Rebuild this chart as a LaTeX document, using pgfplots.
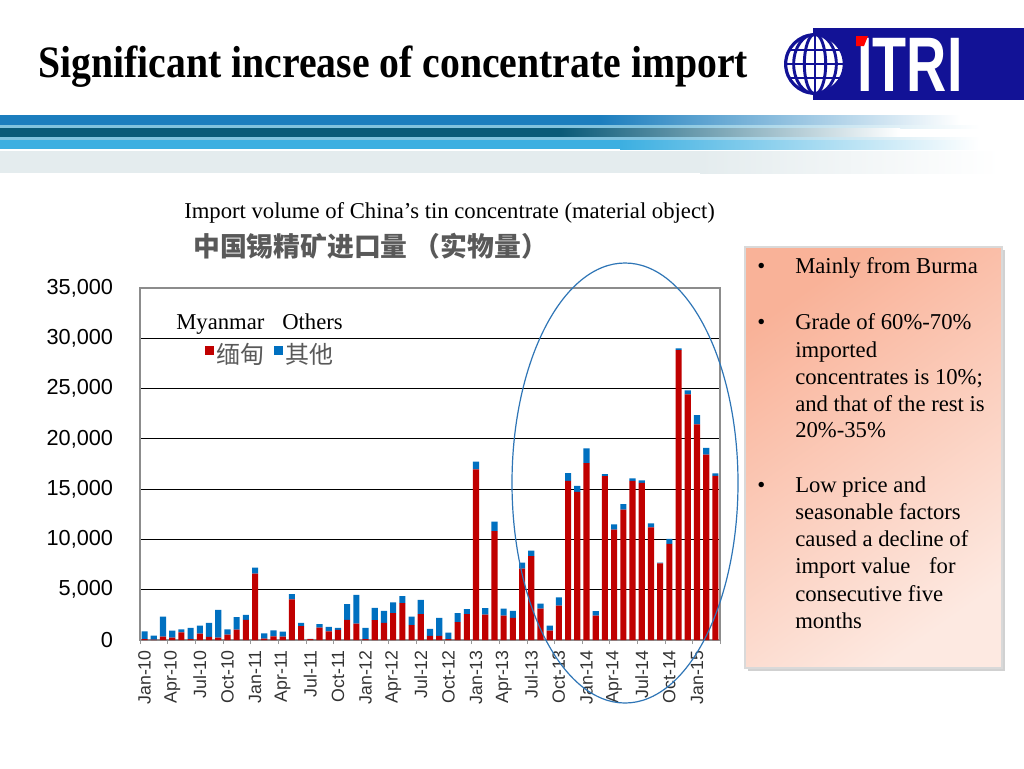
\documentclass[border=0pt]{standalone}
\usepackage{fontspec}
\setmainfont{Liberation Serif}
\setsansfont{Liberation Sans}
\newfontfamily\cjk{Noto Sans CJK SC}
\usepackage{pgfplots}
\pgfplotsset{compat=1.18}
\usepackage{pgfplotstable}

\definecolor{myred}{RGB}{192,0,0}
\definecolor{myblue}{RGB}{0,112,192}
\definecolor{cjkgray}{RGB}{89,89,89}
\definecolor{logoblue}{RGB}{18,18,150}
\definecolor{ellblue}{RGB}{46,117,182}
\definecolor{boxA}{RGB}{249,178,152}
\definecolor{boxB}{RGB}{253,233,225}
\definecolor{sA}{RGB}{28,126,190}
\definecolor{sB}{RGB}{130,195,222}
\definecolor{sC}{RGB}{10,90,120}
\definecolor{sD}{RGB}{60,175,225}
\definecolor{sE}{RGB}{228,236,238}

\pgfplotstableread{
x mm ot
0 100 770
1 50 380
2 330 2000
3 230 700
4 770 300
5 100 1100
6 630 800
7 300 1400
8 230 2770
9 530 540
10 1030 1240
11 2000 500
12 6600 600
13 130 540
14 370 600
15 330 500
16 4030 540
17 1370 330
18 100 20
19 1230 340
20 870 430
21 1000 200
22 2000 1570
23 1630 2870
24 100 1100
25 1970 1230
26 1700 1200
27 2670 1060
28 3670 700
29 1470 860
30 2570 1430
31 400 700
32 400 1800
33 100 630
34 1770 900
35 2570 500
36 16970 760
37 2530 640
38 10830 940
39 2430 700
40 2200 700
41 7100 600
42 8330 570
43 3130 500
44 930 500
45 3430 800
46 15820 780
47 14730 590
48 17600 1450
49 2430 440
50 16300 200
51 10970 530
52 12970 530
53 15830 240
54 15630 240
55 11200 400
56 7630 70
57 9550 500
58 28830 170
59 24430 400
60 21430 940
61 18430 670
62 16330 250
}\data

\begin{document}
\begin{tikzpicture}
\begin{scope}[x=0.75pt,y=-0.75pt]
\useasboundingbox (0,0) rectangle (1024,768);
\fill[white] (0,0) rectangle (1024,768);
% header stripes
\fill[sA] (0,115) rectangle (600,125); \shade[left color=sA,right color=white] (600,115) rectangle (960,125);
\fill[sB] (0,125) rectangle (650,128); \shade[left color=sB,right color=white] (650,125) rectangle (980,128);
\fill[sC] (0,128) rectangle (560,137); \shade[left color=sC,right color=white] (560,128) rectangle (900,137);
\fill[sB] (0,137) rectangle (650,140); \shade[left color=sB,right color=white] (650,137) rectangle (980,140);
\fill[sD] (0,140) rectangle (620,149); \shade[left color=sD,right color=white] (620,140) rectangle (980,149);
\fill[sE] (0,151) rectangle (700,173); \shade[left color=sE,right color=white] (700,151) rectangle (1000,173);
% title
\node[anchor=base west, inner sep=0pt, yscale=1.13, font=\bfseries\fontsize{29.8}{30}\selectfont] at (38,77) {Significant increase of concentrate import};
% logo
\fill[logoblue] (813,28) rectangle (1024,100);
\node[anchor=center, inner sep=0pt, xscale=0.72, text=white, font=\sffamily\bfseries\fontsize{58}{58}\selectfont] at (910,65) {ITRI};
\fill[red] (856,36) -- (868,36) -- (864,46) -- (856,46) -- cycle;
\begin{scope}
\fill[white] (815,64) circle [radius=22.5pt];
\clip (815,64) circle [radius=22.5pt];
\draw[logoblue, line width=2.2pt] (785,50) -- (845,50) (785,64) -- (845,64) (785,78) -- (845,78) (815,30) -- (815,98);
\draw[logoblue, line width=2.2pt] (815,64) ellipse [x radius=8pt, y radius=22.5pt];
\draw[logoblue, line width=2.2pt] (815,64) ellipse [x radius=16pt, y radius=22.5pt];
\end{scope}
\draw[logoblue, line width=2.4pt] (815,64) circle [radius=22pt];
% chart titles
\node[anchor=base west, inner sep=0pt, font=\fontsize{17}{20}\selectfont] at (184,218) {Import volume of China’s tin concentrate (material object)};
\node[anchor=base west, inner sep=0pt, text=cjkgray, font=\cjk\bfseries\fontsize{20.1}{21}\selectfont] at (193,256) {中国锡精矿进口量 （实物量）};
\node[anchor=base west, inner sep=0pt, font=\fontsize{17}{20}\selectfont] at (176,329) {Myanmar};
\node[anchor=base west, inner sep=0pt, font=\fontsize{17}{20}\selectfont] at (282,329) {Others};
% text box
\fill[black!18] (748,250) rectangle (1005,671);
\shade[shading=axis, top color=boxA, bottom color=boxB, shading angle=35] (745,247) rectangle (1002,668);
\draw[black!15, line width=0.8pt] (745,247) rectangle (1002,668);
\begin{scope}[every node/.style={anchor=base west, inner sep=0pt, font=\fontsize{17}{20}\selectfont}]
\node at (757,273) {•}; \node at (795,273) {Mainly from Burma};
\node at (757,329) {•}; \node at (795,329) {Grade of 60\%-70\%};
\node at (795,357) {imported};
\node at (795,384) {concentrates is 10\%;};
\node at (795,411) {and that of the rest is};
\node at (795,437) {20\%-35\%};
\node at (757,492) {•}; \node at (795,492) {Low price and};
\node at (795,519) {seasonable factors};
\node at (795,546) {caused a decline of};
\node at (795,573) {import value\hspace{14pt}for};
\node at (795,601) {consecutive five};
\node at (795,628) {months};
\end{scope}
\end{scope}

\begin{axis}[
  at={(105pt,-480pt)}, anchor=south west,
  scale only axis, width=435pt, height=264pt,
  ybar stacked, bar width=4.6pt,
  xmin=-0.5, xmax=62.5, ymin=0, ymax=35000,
  ytick={0,5000,...,35000},
  ymajorgrids, grid style={black, line width=0.6pt},
  axis line style={draw=black!45, line width=0.8pt},
  xtick={0,3,...,60},
  xticklabels={Jan-10,Apr-10,Jul-10,Oct-10,Jan-11,Apr-11,Jul-11,Oct-11,Jan-12,Apr-12,Jul-12,Oct-12,Jan-13,Apr-13,Jul-13,Oct-13,Jan-14,Apr-14,Jul-14,Oct-14,Jan-15},
  minor xtick={-0.5,2.5,...,62.5},
  tick align=outside, major tick length=0pt, minor tick length=3pt,
  major tick style={draw=none}, minor tick style={draw=black!40},
  ytick pos=left, xtick pos=bottom,
  xticklabel style={rotate=90, anchor=east, inner sep=0pt, text=black!80, font=\sffamily\fontsize{13.3}{13.3}\selectfont},
  xticklabel shift=7.5pt,
  yticklabel style={anchor=east, inner sep=0pt, font=\sffamily\fontsize{16.3}{17}\selectfont},
  yticklabel shift=20pt,
  scaled y ticks=false,
  /pgf/number format/1000 sep={,},
  /pgf/number format/assume math mode=true,
  legend columns=2,
  legend style={draw=none, fill=none, at={(axis description cs:0.112,0.812)}, anchor=west, inner sep=0pt, font=\cjk\fontsize{18}{19}\selectfont, text=cjkgray, /tikz/every even column/.append style={column sep=5pt}},
]
\addplot[fill=myred, draw=none, legend image code/.code={\fill[myred] (0pt,-0.5pt) rectangle (6.6pt,6.1pt);}] table[x=x,y=mm]{\data};
\addplot[fill=myblue, draw=none, legend image code/.code={\fill[myblue] (0pt,-0.5pt) rectangle (6.6pt,6.1pt);}] table[x=x,y=ot]{\data};
\legend{缅甸,其他}
\end{axis}

\begin{scope}[x=0.75pt,y=-0.75pt]
\draw[ellblue, line width=0.9pt] (625,483) ellipse [x radius=84.75pt, y radius=165pt];
\end{scope}
\end{tikzpicture}
\end{document}
